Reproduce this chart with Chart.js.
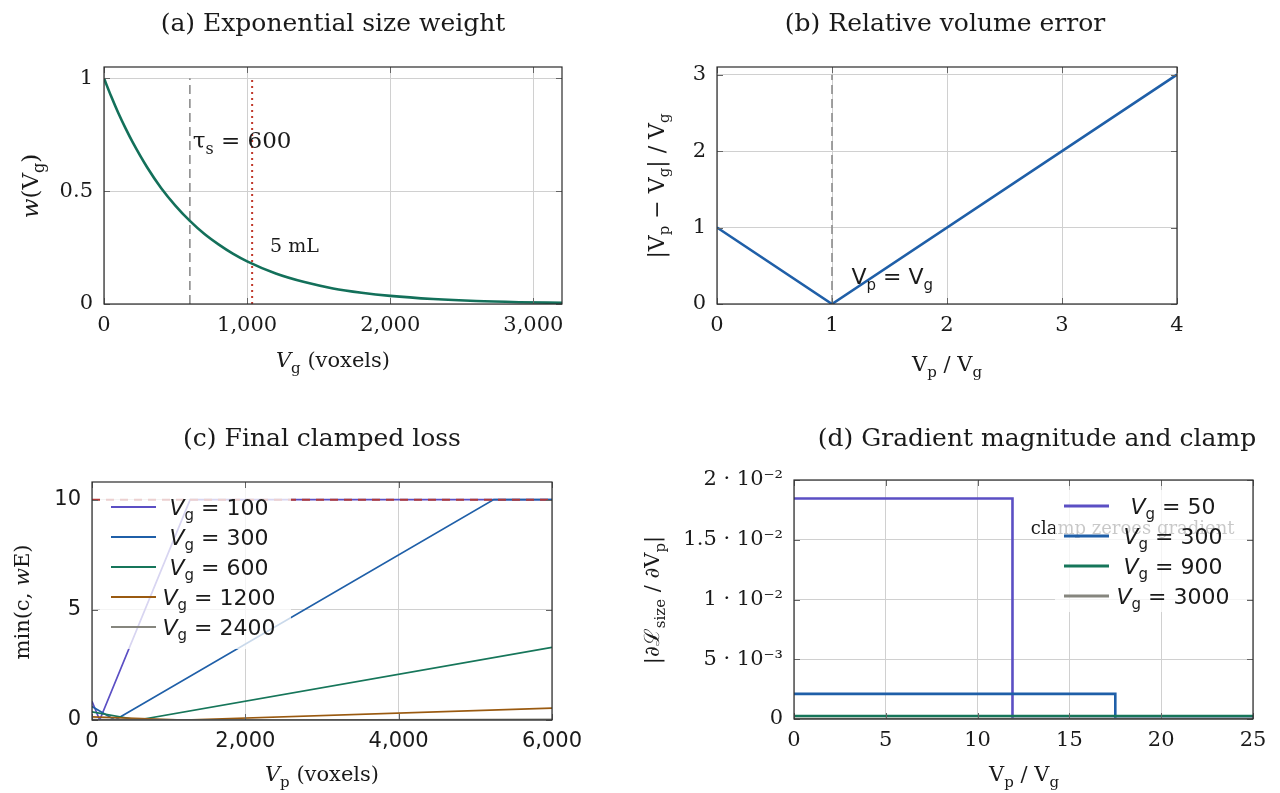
<!DOCTYPE html>
<html>
<head>
<meta charset="utf-8">
<script src="https://cdn.jsdelivr.net/npm/chart.js@4.4.1/dist/chart.umd.min.js"></script>
<style>
  body { margin: 0; background: #fff; width: 1280px; height: 793px; overflow: hidden; position: relative; }
  canvas { position: absolute; left: 0; top: 0; }
</style>
</head>
<body>
<canvas id="chartA" width="1280" height="793"></canvas>
<canvas id="chartB" width="1280" height="793"></canvas>
<canvas id="chartC" width="1280" height="793"></canvas>
<canvas id="chartD" width="1280" height="793"></canvas>
<script>
// (a) exponential size weight
const aVoxels = [0, 50, 100, 150, 200, 300, 400, 500, 600, 700, 800, 900, 1000, 1200, 1400, 1600, 1800, 2000, 2300, 2600, 2900, 3200];
const aWeight = [1.0, 0.92, 0.846, 0.779, 0.717, 0.607, 0.513, 0.435, 0.368, 0.311, 0.264, 0.223, 0.189, 0.135, 0.097, 0.069, 0.05, 0.036, 0.022, 0.013, 0.008, 0.005];
const aTau = 600;
const aFiveMl = 1035;
const aXTicks = [0, 1000, 2000, 3000];
const aYTicks = [0, 0.5, 1];

// (b) relative volume error
const bRatio = [0, 1, 4];
const bError = [1, 0, 3];
const bXTicks = [0, 1, 2, 3, 4];
const bYTicks = [0, 1, 2, 3];

// (c) final clamped loss, one pair of arrays per V_g
const cVp100 = [0, 100, 1280, 6000];
const cLoss100 = [0.85, 0, 10, 10];
const cVp300 = [0, 300, 5240, 6000];
const cLoss300 = [0.61, 0, 10, 10];
const cVp600 = [0, 600, 6000];
const cLoss600 = [0.37, 0, 3.3];
const cVp1200 = [0, 1200, 6000];
const cLoss1200 = [0.14, 0, 0.54];
const cVp2400 = [0, 2400, 6000];
const cLoss2400 = [0.02, 0, 0.03];
const cClamp = 10;
const cLegend = ['100', '300', '600', '1200', '2400'];
const cXTicks = [0, 2000, 4000, 6000];
const cYTicks = [0, 5, 10];

// (d) gradient magnitude
const dRatio50 = [0, 11.9, 11.9, 25];
const dGrad50 = [0.01845, 0.01845, 0, 0];
const dRatio300 = [0, 17.5, 17.5, 25];
const dGrad300 = [0.0021, 0.0021, 0, 0];
const dRatio900 = [0, 25];
const dGrad900 = [0.00025, 0.00025];
const dRatio3000 = [0, 25];
const dGrad3000 = [0.000005, 0.000005];
const dLegend = ['50', '300', '900', '3000'];
const dXTicks = [0, 5, 10, 15, 20, 25];
const dYTicks = [0, 0.005, 0.01, 0.015, 0.02];
const dYTickLabels = ['0', '5 · 10⁻³', '1 · 10⁻²', '1.5 · 10⁻²', '2 · 10⁻²'];

const SERIF = '"DejaVu Serif", serif';
const SANS = '"DejaVu Sans", sans-serif';
const INK = '#1a1a1a';
const PURPLE = '#5b4fc4', BLUE = '#1f5fa8', GREEN = '#16765a', BROWN = '#9a5a10', GREY = '#86867e';

// text with subscripts / italics: parts = [[text, style]], style 's' = subscript, 'i' = italic
function drawRich(ctx, parts, x, y, size, family, opts = {}) {
  ctx.save();
  ctx.translate(x, y);
  if (opts.rotate) ctx.rotate(-Math.PI / 2);
  ctx.fillStyle = opts.color || INK;
  ctx.textBaseline = 'alphabetic';
  ctx.textAlign = 'left';
  const fontOf = st => (st && st.includes('i') ? 'italic ' : '') +
    (st && st.includes('s') ? Math.round(size * 0.7) : size) + 'px ' + family;
  let total = 0;
  const widths = parts.map(([t, st]) => {
    ctx.font = fontOf(st);
    const w = ctx.measureText(t).width;
    total += w;
    return w;
  });
  let cx = opts.align === 'left' ? 0 : -total / 2;
  parts.forEach(([t, st], i) => {
    ctx.font = fontOf(st);
    ctx.fillText(t, cx, size * 0.35 + (st && st.includes('s') ? size * 0.26 : 0));
    cx += widths[i];
  });
  ctx.restore();
}

function drawLegend(ctx, lg) {
  ctx.fillStyle = 'rgba(255,255,255,0.76)';
  ctx.fillRect(lg.box[0], lg.box[1], lg.box[2], lg.box[3]);
  lg.items.forEach((it, i) => {
    const yy = lg.y0 + i * lg.gap;
    ctx.strokeStyle = it.color;
    ctx.lineWidth = lg.lw;
    ctx.setLineDash([]);
    ctx.beginPath();
    ctx.moveTo(lg.x0, yy);
    ctx.lineTo(lg.x1, yy);
    ctx.stroke();
    drawRich(ctx, [['V', 'i'], ['g', 's'], [' = ' + it.label]], lg.textX, yy, lg.size, lg.font);
  });
}

function pts(xs, ys) {
  return xs.map((x, i) => ({ x, y: ys[i] }));
}

function series(xs, ys, color, width, extra) {
  return Object.assign({
    data: pts(xs, ys), borderColor: color, borderWidth: width,
    pointRadius: 0, fill: false, tension: 0
  }, extra || {});
}

function axis(min, max, ticks, fmt, font, isX, g) {
  return {
    type: 'linear', min, max,
    afterBuildTicks: s => { s.ticks = ticks.map(v => ({ value: v })); },
    afterFit: s => {
      if (isX) { s.height = 793 - g.bottom; s.paddingLeft = 0; s.paddingRight = 0; }
      else { s.width = g.left; s.paddingTop = 0; s.paddingBottom = 0; }
    },
    grid: { color: '#d0d0d0', lineWidth: 1, drawTicks: false },
    border: { display: false },
    ticks: {
      padding: isX ? 9 : 11, color: INK, autoSkip: false, maxRotation: 0,
      font: { family: font, size: 21 }, callback: fmt
    }
  };
}

function decor(cfg) {
  return {
    id: 'decor',
    afterDatasetsDraw(chart) {
      const { ctx, chartArea: ca, scales: { x, y } } = chart;
      ctx.save();
      // pgfplots-style inner tick marks
      ctx.strokeStyle = '#666';
      ctx.lineWidth = 1;
      ctx.beginPath();
      cfg.xTicks.forEach(v => {
        const px = Math.round(x.getPixelForValue(v)) + 0.5;
        ctx.moveTo(px, ca.bottom); ctx.lineTo(px, ca.bottom - 6);
        ctx.moveTo(px, ca.top); ctx.lineTo(px, ca.top + 6);
      });
      cfg.yTicks.forEach(v => {
        const py = Math.round(y.getPixelForValue(v)) + 0.5;
        ctx.moveTo(ca.left, py); ctx.lineTo(ca.left + 6, py);
        ctx.moveTo(ca.right, py); ctx.lineTo(ca.right - 6, py);
      });
      ctx.stroke();
      ctx.strokeStyle = '#2a2a2a';
      ctx.lineWidth = 1.2;
      ctx.strokeRect(ca.left, ca.top, ca.width, ca.height);

      (cfg.notes || []).forEach(n => {
        drawRich(ctx, n.parts, x.getPixelForValue(n.x), y.getPixelForValue(n.y), n.size, n.font, { align: 'left' });
      });
      if (cfg.legend) drawLegend(ctx, cfg.legend);

      drawRich(ctx, [[cfg.title]], cfg.titleAt[0], cfg.titleAt[1], 25, SERIF);
      drawRich(ctx, cfg.xTitle, cfg.xTitleAt[0], cfg.xTitleAt[1], 21, SERIF);
      drawRich(ctx, cfg.yTitle, cfg.yTitleAt[0], cfg.yTitleAt[1], cfg.yTitleSize || 21, SERIF, { rotate: true });
      ctx.restore();
    }
  };
}

function makePanel(id, g, xr, yr, xTicks, yTicks, xFmt, yFmt, tickFont, datasets, cfg) {
  cfg.xTicks = xTicks;
  cfg.yTicks = yTicks;
  return new Chart(document.getElementById(id), {
    type: 'line',
    data: { datasets },
    options: {
      responsive: false, animation: false, devicePixelRatio: 1, events: [],
      layout: { padding: { top: g.top, right: 1280 - g.right, left: 0, bottom: 0 } },
      plugins: { legend: { display: false }, tooltip: { enabled: false } },
      scales: {
        x: axis(xr[0], xr[1], xTicks, xFmt, tickFont, true, g),
        y: axis(yr[0], yr[1], yTicks, yFmt, tickFont, false, g)
      }
    },
    plugins: [decor(cfg)]
  });
}

const thousands = v => Number(v).toLocaleString('en-US');
const plain = v => String(v);

// (a)
makePanel('chartA', { left: 104, right: 562, top: 67, bottom: 304 }, [0, 3200], [0, 1.05],
  aXTicks, aYTicks, thousands, plain, SERIF, [
    series([aFiveMl, aFiveMl], [0, 1], '#c0392b', 2, { borderDash: [2, 4], order: 0 }),
    series(aVoxels, aWeight, '#13705a', 2.6, { cubicInterpolationMode: 'monotone', order: 1 }),
    series([aTau, aTau], [0, 1], '#8c8c8c', 1.6, { borderDash: [9, 5], order: 2 })
  ], {
    title: '(a) Exponential size weight', titleAt: [333, 22],
    xTitle: [['V', 'i'], ['g', 's'], [' (voxels)']], xTitleAt: [333, 360],
    yTitle: [['w', 'i'], ['(V'], ['g', 's'], [')']], yTitleAt: [30, 186], yTitleSize: 23,
    notes: [
      { parts: [['τ'], ['s', 's'], [' = 600']], x: 620, y: 0.725, size: 23, font: SERIF },
      { parts: [['5 mL']], x: 1160, y: 0.26, size: 19, font: SERIF }
    ]
  });

// (b)
makePanel('chartB', { left: 717, right: 1177, top: 67, bottom: 304 }, [0, 4], [0, 3.1],
  bXTicks, bYTicks, plain, plain, SERIF, [
    series(bRatio, bError, BLUE, 2.6, { order: 0 }),
    series([1, 1], [0, 3], '#8c8c8c', 1.6, { borderDash: [9, 5], order: 1 })
  ], {
    title: '(b) Relative volume error', titleAt: [945, 22],
    xTitle: [['V'], ['p', 's'], [' / V'], ['g', 's']], xTitleAt: [947, 364],
    yTitle: [['|V'], ['p', 's'], [' − V'], ['g', 's'], ['| / V'], ['g', 's']], yTitleAt: [656, 186], yTitleSize: 22,
    notes: [
      { parts: [['V'], ['p', 's'], [' = V'], ['g', 's']], x: 1.17, y: 0.36, size: 22, font: SANS }
    ]
  });

// (c)
makePanel('chartC', { left: 92, right: 552, top: 482, bottom: 720 }, [0, 6000], [0, 10.8],
  cXTicks, cYTicks, thousands, plain, SANS, [
    series([0, 6000], [cClamp, cClamp], '#b03a3a', 2, { borderDash: [8, 6], order: 0 }),
    series(cVp2400, cLoss2400, GREY, 1.7, { order: 1 }),
    series(cVp1200, cLoss1200, BROWN, 1.7, { order: 2 }),
    series(cVp600, cLoss600, GREEN, 1.7, { order: 3 }),
    series(cVp300, cLoss300, BLUE, 1.7, { order: 4 }),
    series(cVp100, cLoss100, PURPLE, 1.7, { order: 5 })
  ], {
    title: '(c) Final clamped loss', titleAt: [322, 437],
    xTitle: [['V', 'i'], ['p', 's'], [' (voxels)']], xTitleAt: [322, 774],
    yTitle: [['min(c, '], ['w', 'i'], ['E)']], yTitleAt: [22, 602],
    legend: {
      box: [100, 488, 191, 161], x0: 111, x1: 156, textX: 219, y0: 507, gap: 30, lw: 2,
      size: 22, font: SANS,
      items: cLegend.map((label, i) => ({ label, color: [PURPLE, BLUE, GREEN, BROWN, GREY][i] }))
    }
  });

// (d)
makePanel('chartD', { left: 794, right: 1253, top: 480, bottom: 719 }, [0, 25], [0, 0.02],
  dXTicks, dYTicks, plain, (v, i) => dYTickLabels[i], SERIF, [
    series(dRatio3000, dGrad3000, GREY, 2.6, { order: 0 }),
    series(dRatio900, dGrad900, GREEN, 2.6, { order: 1 }),
    series(dRatio300, dGrad300, BLUE, 2.6, { order: 2 }),
    series(dRatio50, dGrad50, PURPLE, 2.6, { order: 3 })
  ], {
    title: '(d) Gradient magnitude and clamp', titleAt: [1037, 437],
    xTitle: [['V'], ['p', 's'], [' / V'], ['g', 's']], xTitleAt: [1024, 774],
    yTitle: [['|∂ℒ'], ['size', 's'], [' / ∂V'], ['p', 's'], ['|']], yTitleAt: [652, 600],
    notes: [
      { parts: [['clamp zeroes gradient']], x: 12.9, y: 0.016, size: 18, font: SERIF }
    ],
    legend: {
      box: [1055, 490, 192, 122], x0: 1064, x1: 1109, textX: 1173, y0: 506, gap: 30, lw: 3,
      size: 22, font: SANS,
      items: dLegend.map((label, i) => ({ label, color: [PURPLE, BLUE, GREEN, GREY][i] }))
    }
  });
</script>
</body>
</html>
